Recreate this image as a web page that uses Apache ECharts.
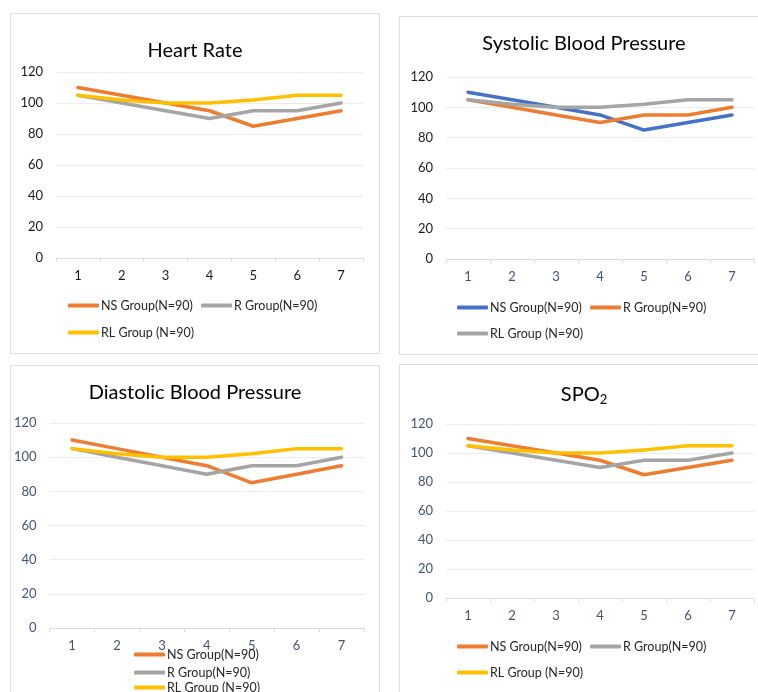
<!DOCTYPE html>
<html>
<head>
<meta charset="utf-8">
<script src="https://cdn.jsdelivr.net/npm/echarts@6/dist/echarts.min.js"></script>
<style>
  html, body { margin: 0; padding: 0; background: #fff; }
  body { width: 758px; height: 692px; overflow: hidden; position: relative; }
  .panel { position: absolute; width: 370px; border: 1px solid #dcdfe4; box-sizing: border-box; background: #fff; }
</style>
</head>
<body>
<div id="p1" class="panel" style="left:10px;top:13px;height:341px"></div>
<div id="p2" class="panel" style="left:399px;top:16px;height:339px"></div>
<div id="p3" class="panel" style="left:10px;top:365px;height:400px"></div>
<div id="p4" class="panel" style="left:399px;top:364px;height:400px"></div>
<script>
  // shared data
  const categories = ['1', '2', '3', '4', '5', '6', '7'];
  const nsValues = [110, 105, 100, 95, 85, 90, 95];
  const rValues = [105, 100, 95, 90, 95, 95, 100];
  const rlValues = [105, 102, 100, 100, 102, 105, 105];
  const yMin = 0, yMax = 120, yStep = 20;

  const names = ['NS Group(N=90)', 'R Group(N=90)', 'RL Group (N=90)'];
  const orange = '#ED7D31', grey = '#A5A5A5', yellow = '#FFC000', blue = '#4472C4';
  const fontFam = 'Lato, "Open Sans", sans-serif';

  function drawPanel(id, o) {
    var myChart = echarts.init(document.getElementById(id));
    var vals = [nsValues, rValues, rlValues];
    myChart.setOption({
      animation: false,
      textStyle: { fontFamily: fontFam },
      title: {
        text: o.title,
        left: 'center',
        top: o.titleTop,
        textStyle: {
          fontFamily: fontFam, fontSize: 20, fontWeight: 'normal', color: '#000',
          rich: o.rich
        }
      },
      grid: o.grid,
      legend: o.legend.map(function (l) {
        return {
          data: [names[l.i]],
          left: l.left,
          top: l.top,
          icon: 'roundRect',
          itemWidth: 31,
          itemHeight: 4,
          itemGap: 0,
          padding: 0,
          textStyle: { fontFamily: fontFam, fontSize: 12.5, color: '#262626', padding: [0, 0, 0, -3] }
        };
      }),
      xAxis: {
        type: 'category',
        data: categories,
        boundaryGap: true,
        axisLine: { lineStyle: { color: '#d9dde3', width: 1 } },
        axisTick: { show: true, length: 4, lineStyle: { color: '#d9dde3' } },
        axisLabel: { color: o.xColor, fontSize: 13, margin: 11, fontFamily: fontFam }
      },
      yAxis: {
        type: 'value',
        min: yMin,
        max: yMax,
        interval: yStep,
        axisLine: { show: false },
        axisTick: { show: false },
        axisLabel: { color: o.yColor, fontSize: 13, margin: 13, fontFamily: fontFam },
        splitLine: { lineStyle: { color: '#ececec', width: 1 } }
      },
      series: names.map(function (n, k) {
        return {
          name: n,
          type: 'line',
          data: vals[k],
          showSymbol: false,
          symbol: 'none',
          color: o.colors[k],
          lineStyle: { width: 3.5, cap: 'round', join: 'round', color: o.colors[k] }
        };
      })
    });
  }

  drawPanel('p1', {
    title: 'Heart Rate', titleTop: 22,
    grid: { left: 45, top: 58, width: 307, height: 186 },
    xColor: '#1a1a1a', yColor: '#1a1a1a',
    colors: [orange, grey, yellow],
    legend: [
      { i: 0, left: 57, top: 285 },
      { i: 1, left: 190, top: 285 },
      { i: 2, left: 57, top: 312 }
    ]
  });

  drawPanel('p2', {
    title: 'Systolic Blood Pressure', titleTop: 12,
    grid: { left: 46, top: 60, width: 308, height: 182 },
    xColor: '#44546A', yColor: '#1a1a1a',
    colors: [blue, orange, grey],
    legend: [
      { i: 0, left: 57, top: 284 },
      { i: 1, left: 190, top: 284 },
      { i: 2, left: 57, top: 310 }
    ]
  });

  drawPanel('p3', {
    title: 'Diastolic Blood Pressure', titleTop: 12,
    grid: { left: 37, top: 57, width: 316, height: 205 },
    xColor: '#44546A', yColor: '#44546A',
    colors: [orange, grey, yellow],
    legend: [
      { i: 0, left: 123, top: 282 },
      { i: 1, left: 123, top: 300 },
      { i: 2, left: 123, top: 315 }
    ]
  });

  drawPanel('p4', {
    title: 'SPO{sub|2}', titleTop: 13,
    rich: { sub: { fontSize: 13, fontFamily: fontFam, color: '#000', verticalAlign: 'bottom', padding: [10, 0, 0, 0] } },
    grid: { left: 46, top: 59, width: 308, height: 174 },
    xColor: '#44546A', yColor: '#44546A',
    colors: [orange, grey, yellow],
    legend: [
      { i: 0, left: 57, top: 275 },
      { i: 1, left: 190, top: 275 },
      { i: 2, left: 57, top: 301 }
    ]
  });
</script>
</body>
</html>
